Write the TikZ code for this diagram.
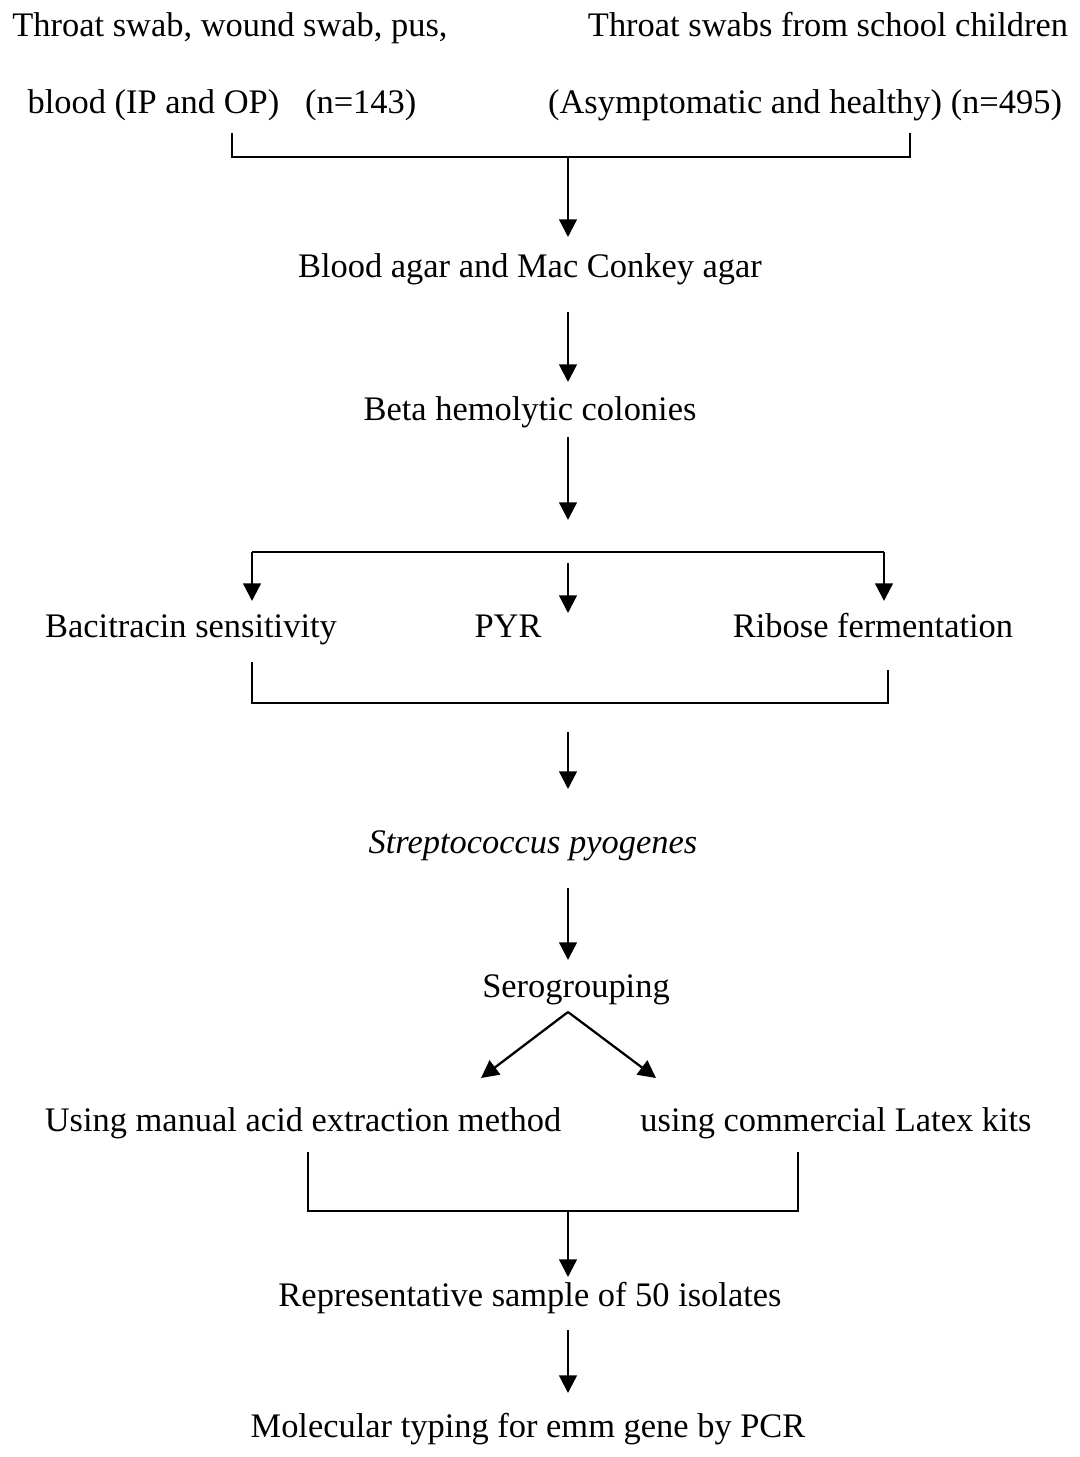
\documentclass[tikz,border=0pt]{standalone}
\usepackage{fontspec}
\setmainfont{Liberation Serif}
\usepackage{tikz}
\usetikzlibrary{arrows.meta,positioning}

\tikzset{
  lbl/.style={anchor=base,inner sep=0pt,font=\fontsize{19.6pt}{23pt}\selectfont},
  brk/.style={line width=1.3pt},
  flow/.style={line width=1.3pt,-{Triangle[length=10pt,width=10pt]}}
}

\begin{document}
\begin{tikzpicture}[x=0.02cm,y=-0.02cm]
  \useasboundingbox (0,0) rectangle (1079,1457);

  % sources
  \node[lbl] (srcA1) at (230,36) {Throat swab, wound swab, pus,};
  \node[lbl] (srcA2) at (222,113) {blood (IP and OP)~~~(n=143)};
  \node[lbl] (srcB1) at (828,36) {Throat swabs from school children};
  \node[lbl] (srcB2) at (805,113) {(Asymptomatic and healthy) (n=495)};

  % culture
  \node[lbl] (agar) at (530,277) {Blood agar and Mac Conkey agar};
  \node[lbl] (beta) at (530,420) {Beta hemolytic colonies};

  % tests
  \node[lbl] (baci) at (191,637) {Bacitracin sensitivity};
  \node[lbl] (pyr) at (508,637) {PYR};
  \node[lbl] (ribose) at (873,637) {Ribose fermentation};

  \node[lbl] (strep) at (533,853) {\itshape Streptococcus pyogenes};
  \node[lbl] (sero) at (576,997) {Serogrouping};

  % grouping methods
  \node[lbl] (manual) at (303,1131) {Using manual acid extraction method};
  \node[lbl] (latex) at (836,1131) {using commercial Latex kits};

  \node[lbl] (rep) at (530,1306) {Representative sample of 50 isolates};
  \node[lbl] (mol) at (528,1437) {Molecular typing for emm gene by PCR};

  % joins
  \coordinate (j1) at (568,157);
  \coordinate (j2) at (568,703);
  \coordinate (j3) at (568,1211);
  \coordinate (apex) at (568,1012);

  \draw[brk] (232,133) -- (232,157) -- (910,157) -- (910,133);
  \draw[flow] (j1) -- (568,237);
  \draw[flow] (568,312) -- (568,382);
  \draw[flow] (568,437) -- (568,520);

  \draw[flow] (252,552) -- (252,601);
  \draw[brk] (252,552) -- (884,552);
  \draw[flow] (884,552) -- (884,601);
  \draw[flow] (568,563) -- (568,613);

  \draw[brk] (252,662) -- (252,703) -- (888,703) -- (888,670);
  \draw[flow] (568,732) -- (568,789);
  \draw[flow] (568,888) -- (568,960);

  \draw[flow] (apex) -- (481,1078);
  \draw[flow] (apex) -- (656,1078);

  \draw[brk] (308,1152) -- (308,1211) -- (798,1211) -- (798,1152);
  \draw[flow] (j3) -- (568,1277);
  \draw[flow] (568,1330) -- (568,1393);
\end{tikzpicture}
\end{document}
